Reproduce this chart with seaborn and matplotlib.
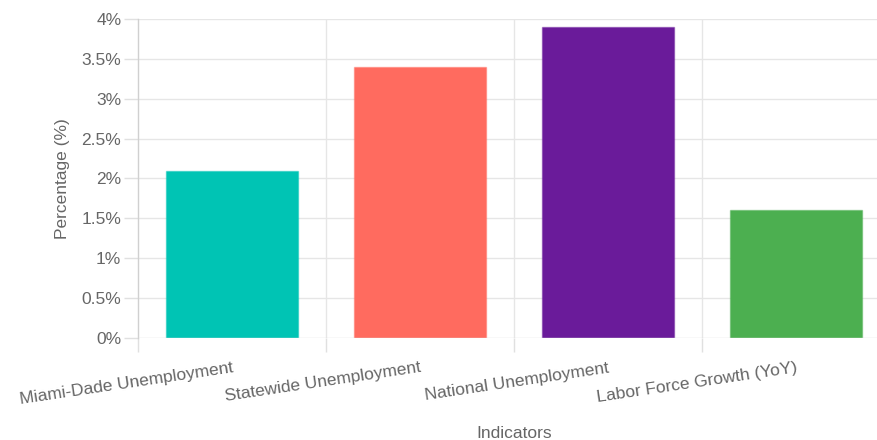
import matplotlib
matplotlib.use("Agg")
import matplotlib.pyplot as plt
import seaborn as sns
import pandas as pd
from matplotlib.ticker import FuncFormatter, MultipleLocator

categories = ["Miami-Dade Unemployment", "Statewide Unemployment",
              "National Unemployment", "Labor Force Growth (YoY)"]
values = [2.1, 3.4, 3.9, 1.6]
colors = ["#00C4B4", "#FF6B5F", "#6A1B9A", "#4CAF50"]

df = pd.DataFrame({"Indicators": categories, "Percentage": values})

sns.set_theme(style="white")
plt.rcParams['font.family'] = ['Liberation Sans', 'DejaVu Sans']

fig = plt.figure(figsize=(8.78, 4.40), dpi=100)
ax = fig.add_axes([138/878, 102/440, 752/878, 319/440])

sns.barplot(data=df, x="Indicators", y="Percentage", hue="Indicators",
            palette=colors, width=0.70, ax=ax, legend=False, saturation=1,
            edgecolor="none", linewidth=0, zorder=3)
for patch, c in zip(ax.patches, colors):
    patch.set_edgecolor(matplotlib.colors.to_rgba(c, 0.45))
    patch.set_linewidth(1.0)

ax.set_xlim(-0.5, 3.5)
ax.set_ylim(0, 4)
ax.yaxis.set_major_locator(MultipleLocator(0.5))
ax.yaxis.set_major_formatter(FuncFormatter(lambda v, p: f"{v:g}%"))

# grid
for yv in [0.5 * i for i in range(1, 9)]:
    ax.axhline(yv, color="#e6e6e6", lw=1, zorder=0)
for xv in [0.5, 1.5, 2.5]:
    ax.axvline(xv, color="#e6e6e6", lw=1, zorder=0)
ax.axhline(0, color="#dddddd", lw=1, zorder=4)

for s in ["top", "right", "bottom"]:
    ax.spines[s].set_visible(False)
ax.spines["left"].set_color("#d0d0d0")
ax.spines["left"].set_linewidth(1)

ax.tick_params(axis="y", length=10, width=1, color="#e0e0e0", labelcolor="#666666",
               labelsize=12.5, pad=2, left=True)
ax.set_xticks([-0.5, 0.5, 1.5, 2.5])
ax.set_xticklabels([])
ax.tick_params(axis="x", which="major", length=10, width=1, color="#e0e0e0", bottom=True)
ax.set_xticks([0, 1, 2, 3], minor=True)
ax.set_xticklabels(categories, minor=True, rotation=8.5, ha="right",
                   rotation_mode="anchor", color="#666666", fontsize=12.5)
ax.tick_params(axis="x", which="minor", length=0, pad=16)

ax.set_xlabel("Indicators", color="#666666", fontsize=12.5, labelpad=14)
ax.set_ylabel("Percentage (%)", color="#666666", fontsize=12.5, labelpad=8)
ax.xaxis.set_label_coords((514 - 138) / 752, -0.275)

fig.savefig("out.png", dpi=100)
